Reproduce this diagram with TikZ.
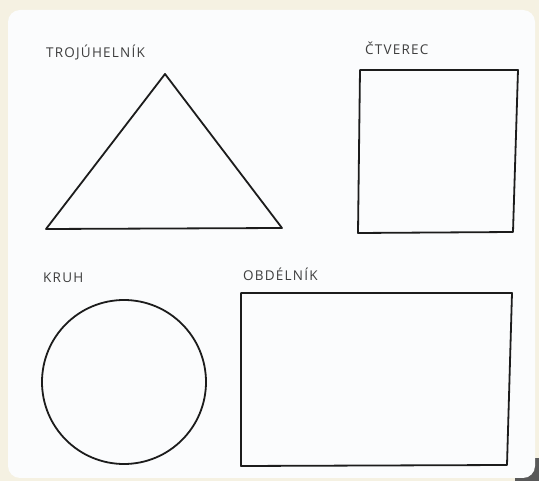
\documentclass[tikz,border=0pt]{standalone}
\usepackage{fontspec}
\setmainfont{Open Sans}
\newfontfamily\cardfont[LetterSpace=9]{Open Sans}
\usepackage{xcolor}
\usetikzlibrary{positioning}

\definecolor{paper}{HTML}{F5F1E2}
\definecolor{card}{HTML}{FBFCFD}
\definecolor{ink}{HTML}{1C1C1C}

\tikzset{
  shape line/.style={draw=ink, line width=1.8pt, line join=round},
  caption/.style={font=\cardfont\fontsize{13.5}{15}\selectfont, text=ink!85, inner sep=0pt, anchor=base west}
}

\begin{document}
\begin{tikzpicture}[x=1pt,y=-1pt]

  % photo edges and card
  \fill[paper] (0,0) rectangle (539,481);
  \fill[black!65] (515,458) rectangle (539,481);
  \fill[card, rounded corners=12pt] (8,10) rectangle (535,478);
  \useasboundingbox (0,0) rectangle (539,481);

  % labels
  \node[caption] (trilabel) at (46,58) {TROJÚHELNÍK};
  \node[caption] (sqlabel)  at (365,55) {ČTVEREC};
  \node[caption] (circlabel) at (43,283) {KRUH};
  \node[caption] (reclabel) at (243,281) {OBDÉLNÍK};

  % triangle
  \draw[shape line] (165,74) -- (282,228) -- (46,229) -- cycle;

  % square
  \draw[shape line] (360,70) -- (518,70) -- (513,232) -- (358,233) -- cycle;

  % circle
  \draw[shape line] (124,382) circle[radius=82];

  % rectangle
  \draw[shape line] (241,293) -- (512,293) -- (507,465) -- (241,466) -- cycle;

\end{tikzpicture}
\end{document}
